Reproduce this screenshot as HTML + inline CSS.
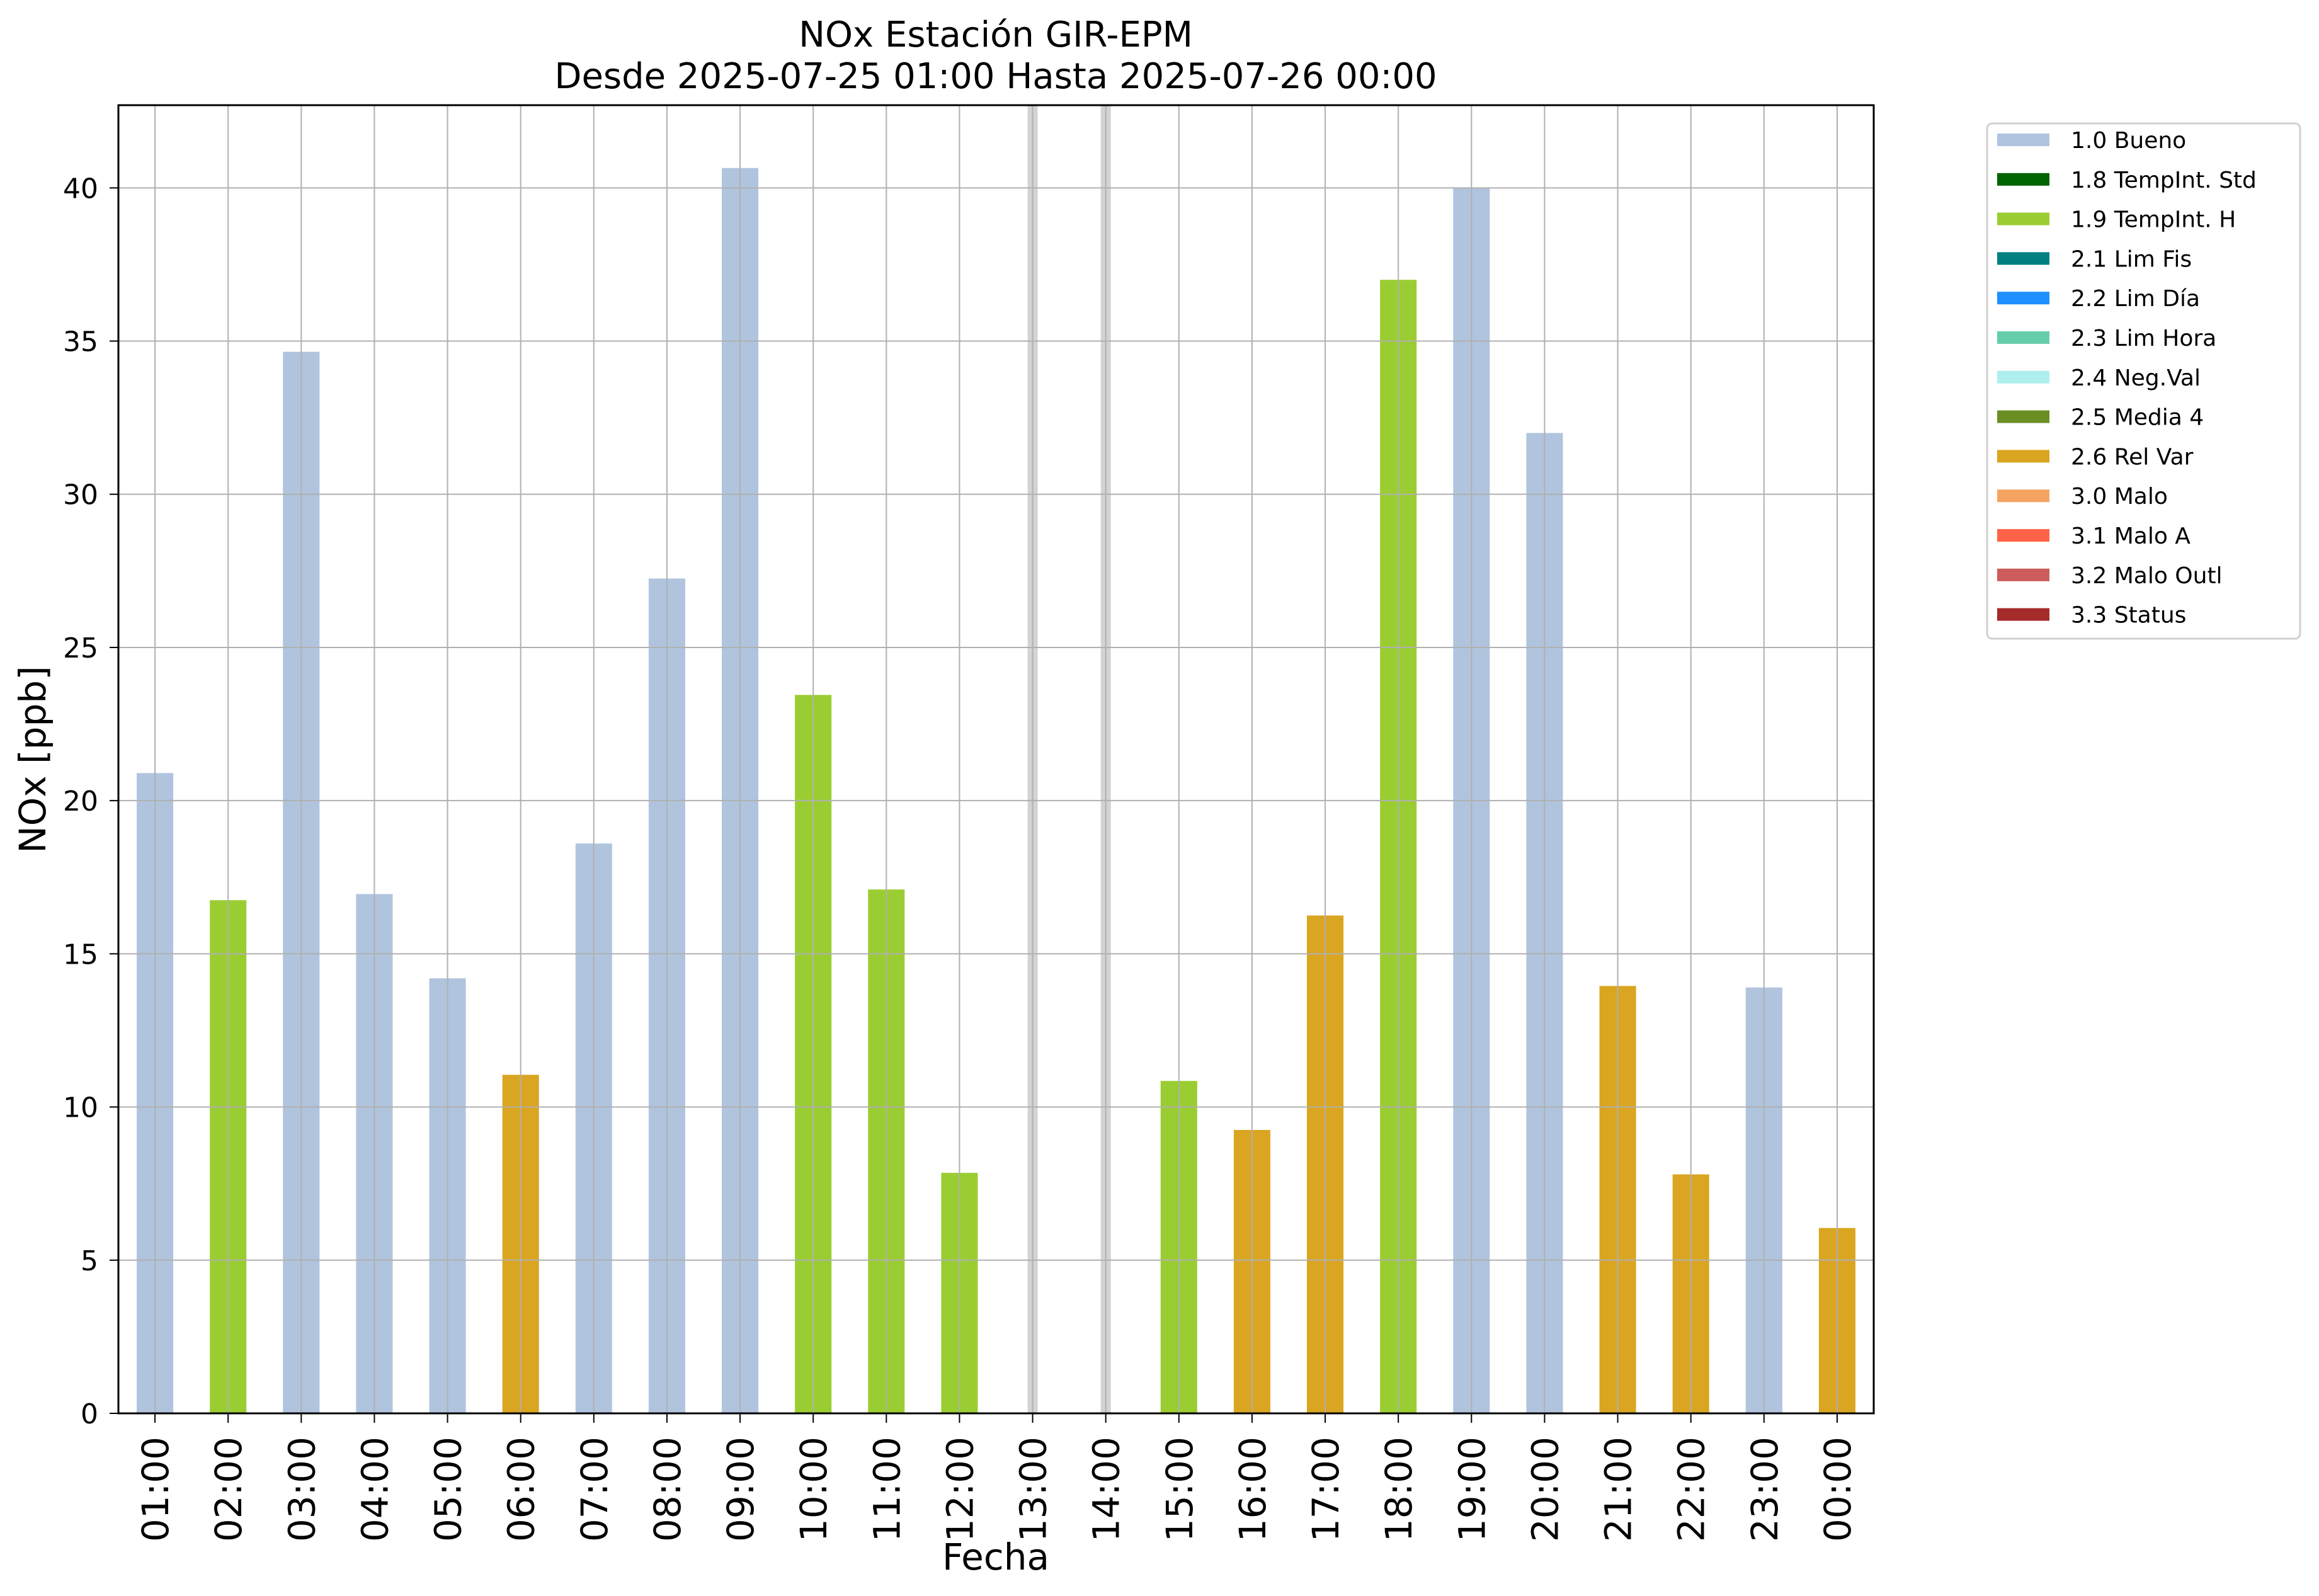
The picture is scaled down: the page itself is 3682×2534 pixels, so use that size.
<!DOCTYPE html>
<html><head><meta charset="utf-8"><style>
html,body{margin:0;padding:0;background:#fff;}
svg{display:block;font-family:"DejaVu Sans","Liberation Sans",sans-serif;}
</style></head><body>
<svg id="chart" width="3682" height="2534" viewBox="0 0 3682 2534" xmlns="http://www.w3.org/2000/svg">
<rect x="0" y="0" width="3682" height="2534" fill="#fff"/>
<text x="1581" y="74" font-size="56" text-anchor="middle">NOx Estación GIR-EPM</text>
<text x="1581" y="140" font-size="56" text-anchor="middle">Desde 2025-07-25 01:00 Hasta 2025-07-26 00:00</text>
<g id="plot"></g>
<text transform="translate(72,1206) rotate(-90)" font-size="58" text-anchor="middle">NOx [ppb]</text>
<text x="1581" y="2492" font-size="58" text-anchor="middle">Fecha</text>
<g id="legend"></g>
</svg>
<script>
const categories = ["01:00","02:00","03:00","04:00","05:00","06:00","07:00","08:00","09:00","10:00","11:00","12:00","13:00","14:00","15:00","16:00","17:00","18:00","19:00","20:00","21:00","22:00","23:00","00:00"];
const values = [20.9,16.75,34.65,16.95,14.2,11.05,18.6,27.25,40.65,23.45,17.1,7.85,null,null,10.85,9.25,16.25,37.0,40.0,32.0,13.95,7.8,13.9,6.05];
const flags = ["1.0","1.9","1.0","1.0","1.0","2.6","1.0","1.0","1.0","1.9","1.9","1.9",null,null,"1.9","2.6","2.6","1.9","1.0","1.0","2.6","2.6","1.0","2.6"];
const yTicks = [0,5,10,15,20,25,30,35,40];
const legendLabels = ["1.0 Bueno","1.8 TempInt. Std","1.9 TempInt. H","2.1 Lim Fis","2.2 Lim Día","2.3 Lim Hora","2.4 Neg.Val","2.5 Media 4","2.6 Rel Var","3.0 Malo","3.1 Malo A","3.2 Malo Outl","3.3 Status"];
const legendColors = ["#b0c4de","#006400","#9acd32","#008080","#1e90ff","#66cdaa","#afeeee","#6b8e23","#daa520","#f4a460","#ff6347","#cd5c5c","#a52a2a"];
const flagColors = {"1.0":"#b0c4de","1.9":"#9acd32","2.6":"#daa520"};

const NS="http://www.w3.org/2000/svg";
const L=188,R=2975,T=167,B=2244,YMAX=42.7;
const step=(R-L)/categories.length;
function xs(i){return L+(i+0.5)*step;}
function ys(v){return B-(v/YMAX)*(B-T);}
function mk(tag,attrs,parent){const e=document.createElementNS(NS,tag);for(const k in attrs)e.setAttribute(k,attrs[k]);parent.appendChild(e);return e;}
const plot=document.getElementById('plot');
const bw=step*0.5;
// bars
values.forEach((v,i)=>{
  if(v===null)return;
  const r=mk('rect',{x:xs(i)-bw/2,y:ys(v),width:bw,height:B-ys(v),fill:flagColors[flags[i]]},plot);
  
  
});
// missing data markers
values.forEach((v,i)=>{
  if(v!==null)return;
  const m=mk('rect',{x:xs(i)-8,y:T,width:16,height:B-T,fill:"#d3d3d3"},plot);
  
  
});
// grid
categories.forEach((c,i)=>{
  const g=mk('line',{x1:xs(i),x2:xs(i),y1:T,y2:B,stroke:"#b0b0b0","stroke-width":2},plot);
  
  
});
yTicks.forEach(t=>{
  const g=mk('line',{x1:L,x2:R,y1:ys(t),y2:ys(t),stroke:"#b0b0b0","stroke-width":2},plot);
  
  
  const tk=mk('line',{x1:L-14,x2:L,y1:ys(t),y2:ys(t),stroke:"#000","stroke-width":2},plot);
  
  
  const tx=mk('text',{x:L-32,y:ys(t)+16,"font-size":44,"text-anchor":"end"},plot);
  tx.textContent=t;
  
  
});
categories.forEach((c,i)=>{
  const tk=mk('line',{x1:xs(i),x2:xs(i),y1:B,y2:B+15,stroke:"#000","stroke-width":2},plot);
  
  
  const tx=mk('text',{transform:`translate(${xs(i)+21},2281) rotate(-90)`,"font-size":58,"text-anchor":"end"},plot);
  tx.textContent=c;
  
  
});
const frame=mk('rect',{x:L,y:T,width:R-L,height:B-T,fill:"none",stroke:"#000","stroke-width":3},plot);


// legend
const lg=document.getElementById('legend');
const box=mk('rect',{x:3155,y:196,width:497,height:818,rx:8,fill:"#fff","fill-opacity":0.8,stroke:"#d0d0d0","stroke-width":3},lg);


legendLabels.forEach((lab,i)=>{
  const cy=222+i*62.8;
  const p=mk('rect',{x:3171,y:cy-10,width:83,height:20,fill:legendColors[i]},lg);
  
  
  const t=mk('text',{x:3288,y:cy+13,"font-size":36},lg);
  t.textContent=lab;
  
  
});
</script>
</body></html>
